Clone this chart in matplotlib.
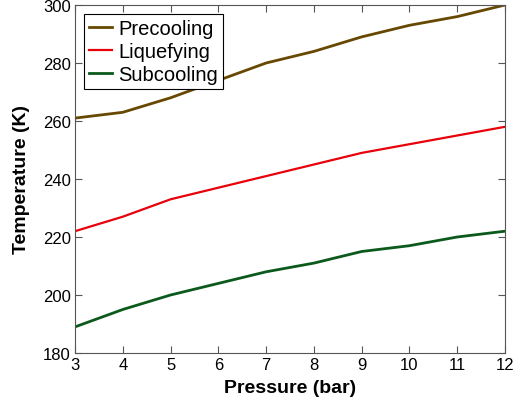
import numpy as np
import matplotlib.pyplot as plt

plt.rcParams['font.family'] = ['Liberation Sans', 'DejaVu Sans']

pressure = [3, 4, 5, 6, 7, 8, 9, 10, 11, 12]
precooling = [261, 263, 268, 274, 280, 284, 289, 293, 296, 300]
liquefying = [222, 227, 233, 237, 241, 245, 249, 252, 255, 258]
subcooling = [189, 195, 200, 204, 208, 211, 215, 217, 220, 222]

fig = plt.figure(figsize=(5.14, 4.10), dpi=100)
ax = fig.add_axes([75 / 514, 56 / 410, 430 / 514, 348 / 410])

ax.plot(pressure, precooling, color='#664800', lw=2, label='Precooling')
ax.plot(pressure, liquefying, color='#e8000b', lw=1.6, label='Liquefying')
ax.plot(pressure, subcooling, color='#0b5a1c', lw=2, label='Subcooling')

ax.set_xlim(3, 12)
ax.set_ylim(180, 300)
ax.set_xticks(range(3, 13))
ax.set_yticks(range(180, 301, 20))
ax.tick_params(direction='in', top=True, right=True, labelsize=12, length=5,
               color='#555555', pad=3)
for s in ax.spines.values():
    s.set_color('#555555')

ax.set_xlabel('Pressure (bar)', fontsize=14, fontweight='bold', labelpad=5)
ax.set_ylabel('Temperature (K)', fontsize=14, fontweight='bold', labelpad=9)

leg = ax.legend(loc='upper left', fontsize=14.5, fancybox=False, framealpha=1,
                edgecolor='black', borderpad=0.25, labelspacing=0.2,
                handlelength=1.15, handletextpad=0.3, borderaxespad=0.45)
leg.get_frame().set_linewidth(0.8)

fig.savefig('out.png', dpi=100)
